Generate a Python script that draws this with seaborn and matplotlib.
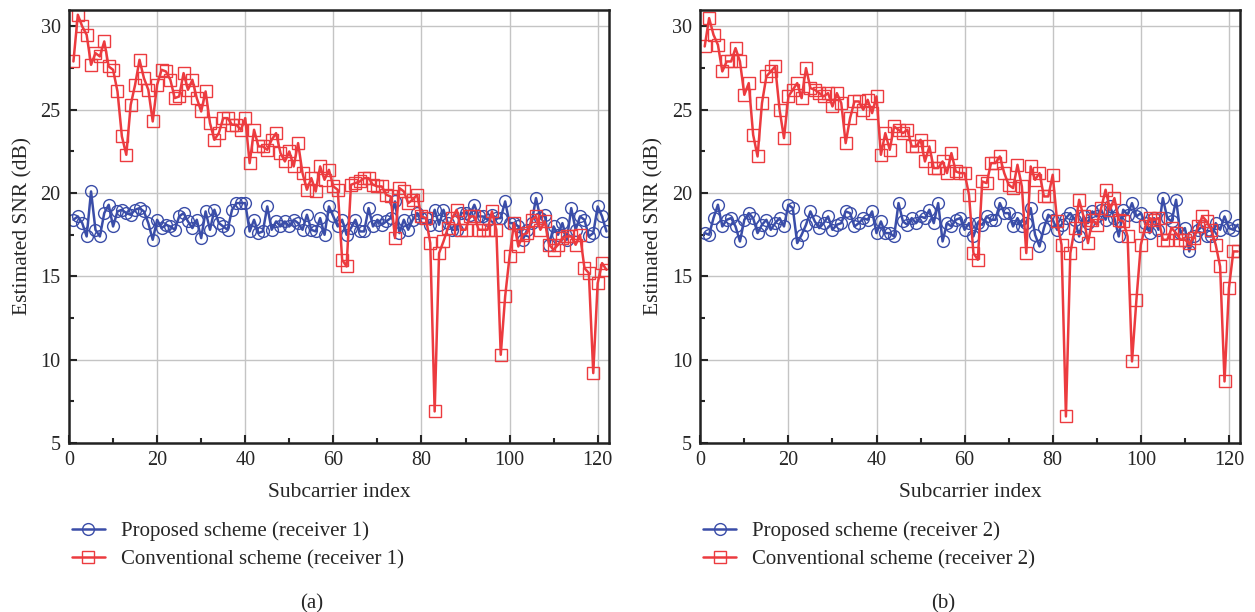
import seaborn as sns
import matplotlib.pyplot as plt
from matplotlib.ticker import MultipleLocator

# subcarrier index 1..122
idx = list(range(1, 123))

proposed_r1 = [18.4, 18.6, 18.2, 17.4, 20.1, 17.8, 17.4, 18.8, 19.3, 18.0,
               18.9, 19.0, 18.8, 18.7, 19.0, 19.1, 18.9, 18.2, 17.2, 18.4,
               17.9, 18.1, 18.0, 17.8, 18.6, 18.8, 18.3, 17.9, 18.4, 17.3,
               18.9, 17.8, 19.0, 18.2, 18.0, 17.8, 19.0, 19.4, 19.4, 19.4,
               17.7, 18.4, 17.6, 17.7, 19.2, 17.8, 18.3, 18.0, 18.3, 18.0,
               18.4, 18.2, 17.8, 18.7, 17.8, 17.7, 18.5, 17.5, 19.2, 18.6,
               18.0, 18.4, 17.5, 17.9, 18.4, 17.7, 17.7, 19.1, 18.0, 18.4,
               18.1, 18.3, 18.5, 19.5, 17.6, 18.4, 17.8, 18.4, 18.8, 18.5,
               18.5, 18.1, 19.0, 18.1, 19.0, 18.2, 17.8, 17.8, 18.8, 18.8,
               18.7, 19.3, 18.6, 18.6, 18.4, 18.7, 18.5, 18.5, 19.5, 18.2,
               18.2, 18.0, 17.2, 17.8, 18.2, 19.7, 18.5, 18.7, 16.9, 18.0,
               17.5, 18.2, 17.2, 19.1, 17.8, 18.6, 18.4, 17.4, 17.6, 19.2,
               18.6, 17.7]

conventional_r1 = [27.9, 30.7, 30.0, 29.5, 27.7, 28.4, 28.2, 29.1, 27.6, 27.4,
                   26.1, 23.4, 22.3, 25.3, 26.5, 28.0, 26.9, 26.2, 24.3, 26.5,
                   27.4, 27.3, 26.8, 25.7, 25.8, 27.2, 26.2, 26.8, 25.7, 24.9,
                   26.1, 24.2, 23.2, 23.6, 24.5, 24.5, 24.1, 24.1, 23.8, 24.5,
                   21.8, 23.8, 22.8, 22.8, 22.6, 23.2, 23.6, 22.4, 21.9, 22.5,
                   21.6, 23.0, 21.2, 20.2, 20.9, 20.1, 21.6, 20.8, 21.4, 20.4,
                   20.2, 16.0, 15.6, 20.5, 20.6, 20.7, 20.9, 20.9, 20.5, 20.4,
                   20.4, 19.9, 19.8, 17.3, 20.3, 20.1, 19.4, 19.6, 19.9, 18.6,
                   18.5, 17.0, 6.9, 16.4, 17.1, 17.9, 18.5, 19.0, 17.8, 17.8,
                   18.6, 18.6, 17.8, 17.8, 17.8, 18.9, 17.8, 10.3, 13.8, 16.2,
                   18.2, 16.8, 17.5, 17.6, 18.4, 18.6, 17.8, 18.3, 16.9, 16.6,
                   16.9, 17.3, 17.4, 17.4, 16.9, 17.5, 15.5, 15.2, 9.2, 14.6,
                   15.8, 15.4]

proposed_r2 = [17.6, 17.5, 18.5, 19.3, 18.0, 18.4, 18.5, 18.0, 17.1, 18.4,
               18.8, 18.5, 17.6, 18.1, 18.4, 17.8, 18.2, 18.5, 18.0, 19.3,
               19.1, 17.0, 17.5, 18.1, 18.9, 18.3, 17.9, 18.2, 18.6, 17.8,
               18.1, 18.2, 18.9, 18.8, 18.0, 18.2, 18.5, 18.4, 18.9, 17.6,
               18.3, 17.6, 17.6, 17.4, 19.4, 18.3, 18.1, 18.5, 18.2, 18.6,
               18.5, 19.0, 18.2, 19.4, 17.1, 18.2, 18.0, 18.4, 18.5, 17.8,
               18.2, 17.4, 18.2, 18.1, 18.6, 18.4, 18.4, 19.4, 18.8, 18.8,
               18.0, 18.5, 18.0, 18.2, 19.1, 17.5, 16.8, 17.9, 18.7, 18.4,
               17.8, 18.1, 18.5, 18.8, 18.4, 17.4, 18.6, 18.2, 18.9, 18.6,
               19.0, 18.4, 19.2, 18.5, 17.4, 19.0, 18.7, 19.4, 18.6, 18.8,
               18.2, 17.6, 18.5, 17.8, 19.7, 18.5, 18.3, 19.6, 17.6, 17.9,
               16.5, 17.4, 17.8, 18.0, 17.4, 17.4, 18.2, 17.8, 18.6, 17.9,
               17.8, 18.1]

conventional_r2 = [28.8, 30.5, 29.5, 28.9, 27.3, 27.9, 27.9, 28.7, 27.9, 25.9,
                   26.6, 23.5, 22.2, 25.4, 27.0, 27.3, 27.6, 25.0, 23.3, 25.8,
                   26.2, 26.6, 25.7, 27.5, 26.3, 26.2, 26.0, 25.8, 26.0, 25.2,
                   26.0, 25.4, 23.0, 24.5, 25.5, 25.5, 25.0, 25.6, 24.8, 25.8,
                   22.3, 23.6, 22.6, 24.0, 23.8, 23.6, 23.8, 22.8, 22.8, 23.2,
                   21.9, 22.8, 21.5, 21.5, 21.9, 21.2, 22.4, 21.3, 21.2, 21.2,
                   19.9, 16.4, 16.0, 20.7, 20.6, 21.8, 21.8, 22.2, 21.2, 20.5,
                   20.3, 21.7, 20.4, 16.4, 21.6, 20.8, 21.2, 19.8, 19.8, 21.1,
                   18.3, 16.9, 6.6, 16.4, 17.9, 19.6, 18.6, 17.0, 18.4, 18.1,
                   19.1, 20.2, 19.0, 19.7, 18.4, 18.3, 17.4, 9.9, 13.6, 16.9,
                   18.0, 18.5, 18.4, 18.5, 17.2, 17.2, 17.9, 17.6, 17.2, 17.2,
                   17.0, 17.3, 18.0, 18.6, 18.3, 17.8, 16.9, 15.6, 8.7, 14.3,
                   16.5, 16.5]

blue = "#3A4DA8"
red = "#EC3B3F"

sns.set_style("ticks")
plt.rcParams['font.family'] = ['Liberation Serif', 'DejaVu Serif']

fig = plt.figure(figsize=(12.55, 6.12), dpi=100)
ax_a = fig.add_axes([0.055, 0.276, 0.430, 0.708])
ax_b = fig.add_axes([0.558, 0.276, 0.430, 0.708])

panels = [
    (ax_a, proposed_r1, conventional_r1, "receiver 1", "(a)"),
    (ax_b, proposed_r2, conventional_r2, "receiver 2", "(b)"),
]

for ax, prop, conv, rx, tag in panels:
    sns.lineplot(x=idx, y=prop, ax=ax, color=blue, lw=1.8, marker='o',
                 markersize=8.5, mfc='none', mec=blue, mew=1.0,
                 label=f"Proposed scheme ({rx})")
    sns.lineplot(x=idx, y=conv, ax=ax, color=red, lw=1.8, marker='s',
                 markersize=8.5, mfc='none', mec=red, mew=1.0,
                 label=f"Conventional scheme ({rx})")

    ax.set_xlim(0, 122.5)
    ax.set_ylim(5, 31)
    ax.xaxis.set_major_locator(MultipleLocator(20))
    ax.xaxis.set_minor_locator(MultipleLocator(10))
    ax.yaxis.set_major_locator(MultipleLocator(5))
    ax.yaxis.set_minor_locator(MultipleLocator(2.5))
    ax.grid(True, which='major', color='#c4c4c4', lw=1.0)
    ax.tick_params(which='both', direction='in', labelsize=14.5, width=1.5,
                   top=False, right=False)
    ax.tick_params(which='major', length=6, pad=6)
    ax.tick_params(which='minor', length=3.5)
    for s in ax.spines.values():
        s.set_linewidth(1.8)
        s.set_color('#222222')
    ax.set_xlabel("Subcarrier index", fontsize=15.5, labelpad=9)
    ax.set_ylabel("Estimated SNR (dB)", fontsize=15.5, labelpad=6)

    ax.legend(loc='upper left', bbox_to_anchor=(0.005, -0.18), frameon=False,
              fontsize=15, handlelength=1.6, handletextpad=0.75,
              labelspacing=0.45, borderaxespad=0.0, borderpad=0.0)
    ax.text(0.45, -0.37, tag, transform=ax.transAxes, fontsize=15,
            ha='center', va='center')

fig.savefig("out.png", dpi=100)
